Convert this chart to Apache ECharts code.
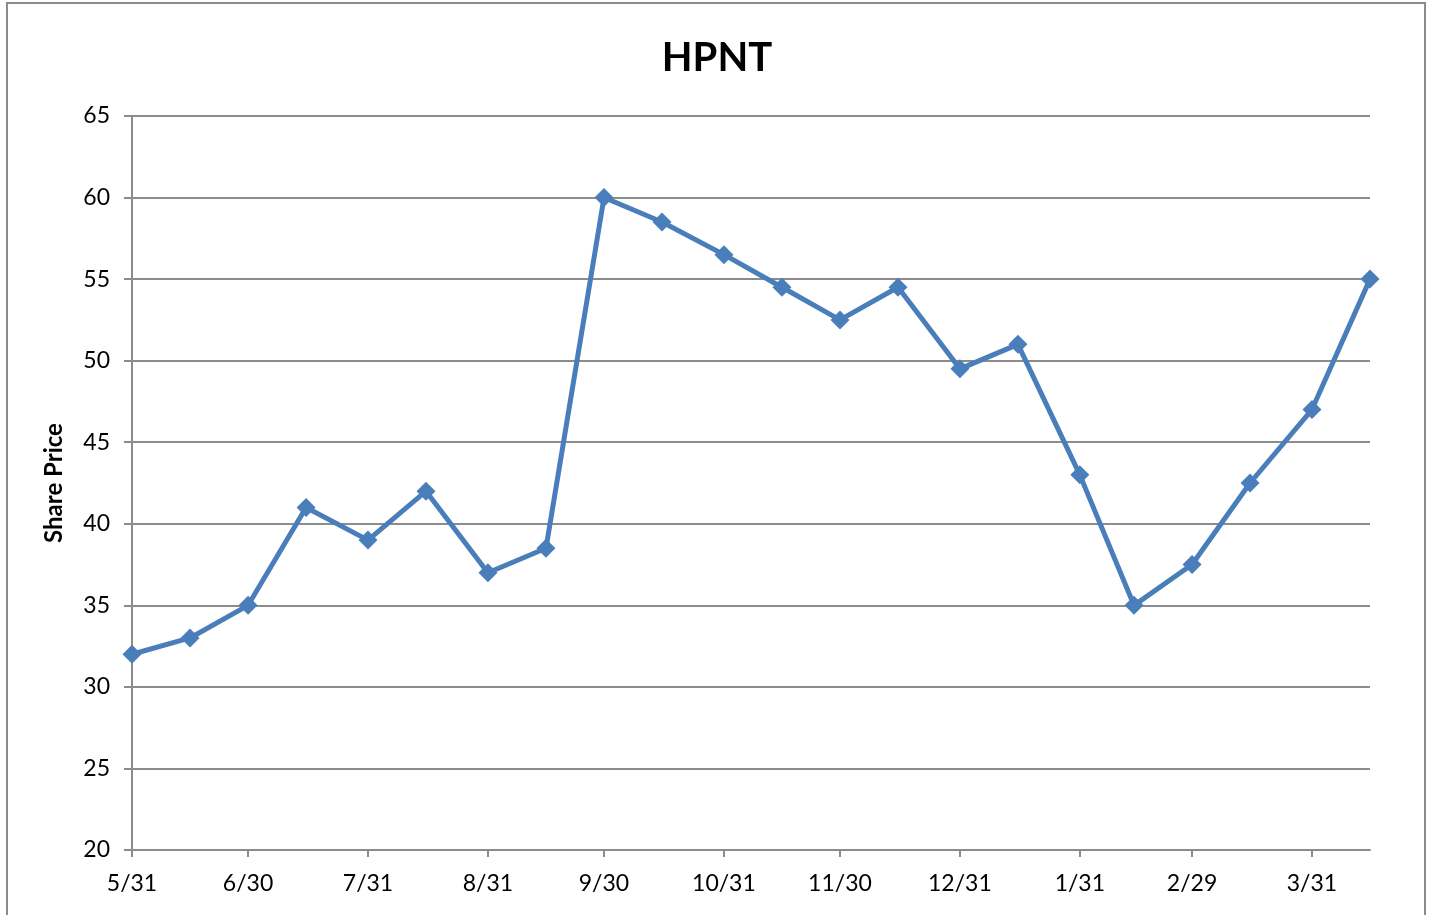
<!DOCTYPE html>
<html>
<head>
  <title>HPNT</title>
  <script src="https://cdn.jsdelivr.net/npm/echarts@6/dist/echarts.min.js"></script>
  <style>
    html, body { margin: 0; padding: 0; background: #fff; }
    #graph { width: 1434px; height: 915px; }
  </style>
</head>
<body>
  <div id="graph"></div>

  <script>
    // data (semi-monthly points)
    var dates = ['2011-05-31', '2011-06-15', '2011-06-30', '2011-07-15', '2011-07-31', '2011-08-15',
      '2011-08-31', '2011-09-15', '2011-09-30', '2011-10-15', '2011-10-31', '2011-11-15',
      '2011-11-30', '2011-12-15', '2011-12-31', '2012-01-15', '2012-01-31', '2012-02-14',
      '2012-02-29', '2012-03-15', '2012-03-31', '2012-04-15'];
    var prices = [32, 33, 35, 41, 39, 42, 37, 38.5, 60, 58.5, 56.5, 54.5, 52.5, 54.5, 49.5, 51,
      43, 35, 37.5, 42.5, 47, 55];
    var tickDates = ['2011-05-31', '2011-06-30', '2011-07-31', '2011-08-31', '2011-09-30', '2011-10-31',
      '2011-11-30', '2011-12-31', '2012-01-31', '2012-02-29', '2012-03-31'];
    var tickLabels = ['5/31', '6/30', '7/31', '8/31', '9/30', '10/31', '11/30', '12/31', '1/31', '2/29', '3/31'];

    // days from the first date
    var start = Date.parse(dates[0]);
    function dayOf(d) { return Math.round((Date.parse(d) - start) / 86400000); }
    var tickDays = tickDates.map(dayOf);
    var seriesData = dates.map(function (d, i) { return [dayOf(d), prices[i]]; });

    var font = 'Lato, "Open Sans", sans-serif';
    var myChart = echarts.init(document.getElementById('graph'));

    var option = {
      backgroundColor: '#fff',
      animation: false,
      title: {
        text: 'HPNT',
        left: 'center',
        top: 22,
        textStyle: { fontFamily: font, fontSize: 40, fontWeight: 'bold', color: '#000' }
      },
      graphic: [{
        type: 'rect',
        shape: { x: 7, y: 3, width: 1418, height: 930 },
        style: { fill: 'none', stroke: '#8c8c8c', lineWidth: 2 },
        silent: true
      }],
      grid: { left: 132, right: 64, top: 116, bottom: 65 },
      xAxis: {
        type: 'value',
        min: 0,
        max: dayOf(dates[dates.length - 1]),
        splitLine: { show: false },
        axisLine: { lineStyle: { color: '#8c8c8c', width: 2 } },
        axisTick: {
          show: true, length: 7, lineStyle: { color: '#8c8c8c', width: 2 },
          customValues: tickDays
        },
        axisLabel: {
          customValues: tickDays,
          margin: 16,
          color: '#000', fontFamily: font, fontSize: 23,
          formatter: function (v) {
            var i = tickDays.indexOf(v);
            return i >= 0 ? tickLabels[i] : '';
          }
        }
      },
      yAxis: {
        type: 'value',
        min: 20,
        max: 65,
        interval: 5,
        name: 'Share Price',
        nameLocation: 'middle',
        nameGap: 56,
        nameTextStyle: { fontFamily: font, fontSize: 24, fontWeight: 'bold', color: '#000' },
        axisLine: { show: true, lineStyle: { color: '#8c8c8c', width: 2 } },
        axisTick: { show: true, length: 8, lineStyle: { color: '#8c8c8c', width: 2 } },
        axisLabel: { margin: 22, color: '#000', fontFamily: font, fontSize: 23 },
        splitLine: { lineStyle: { color: '#8c8c8c', width: 2 } }
      },
      series: [{
        type: 'line',
        data: seriesData,
        symbol: 'diamond',
        symbolSize: 19,
        itemStyle: { color: '#4a7ebb' },
        lineStyle: { color: '#4a7ebb', width: 5 }
      }]
    };

    myChart.setOption(option);
  </script>
</body>
</html>
